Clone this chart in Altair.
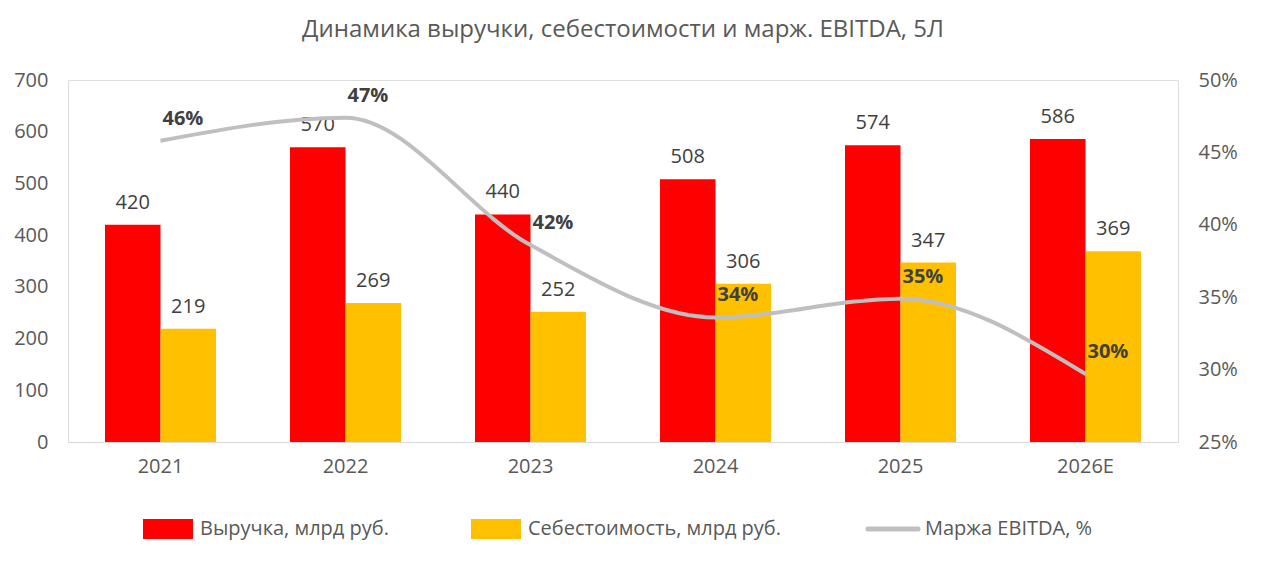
import altair as alt
import pandas as pd

years = ["2021", "2022", "2023", "2024", "2025", "2026E"]
revenue = [420, 570, 440, 508, 574, 586]
cost = [219, 269, 252, 306, 347, 369]
margin = [45.8, 47.4, 38.6, 33.6, 34.9, 29.7]
margin_labels = ["46%", "47%", "42%", "34%", "35%", "30%"]
series = ["Выручка, млрд руб.", "Себестоимость, млрд руб."]
line_name = "Маржа EBITDA, %"
colors = ["#ff0000", "#ffc000"]
line_color = "#bfbfbf"

bars = pd.DataFrame(
    [{"year": y, "s": series[0], "v": r} for y, r in zip(years, revenue)]
    + [{"year": y, "s": series[1], "v": c} for y, c in zip(years, cost)]
)
line = pd.DataFrame({"year": years, "m": margin, "lab": margin_labels})

FONT = "Open Sans"
xenc = alt.X("year:N", sort=years, title=None,
             scale=alt.Scale(paddingInner=0.4, paddingOuter=0.2),
             axis=alt.Axis(labelAngle=0, labelFontSize=20, labelColor="#595959",
                           domainColor="#d9d9d9", ticks=False, labelPadding=14))
yleft = alt.Y("v:Q", title=None, scale=alt.Scale(domain=[0, 700]),
              axis=alt.Axis(values=list(range(0, 701, 100)), grid=False, domain=False,
                            ticks=False, labelFontSize=20, labelColor="#595959", labelPadding=20))

base = alt.Chart(bars).encode(
    x=xenc,
    xOffset=alt.XOffset("s:N", sort=series),
    y=yleft,
)
barl = base.mark_bar().encode(
    color=alt.Color("s:N", scale=alt.Scale(domain=series, range=colors), legend=None))
bartxt = base.mark_text(dy=-22, fontSize=20, color="#404040", font=FONT).encode(text="v:Q")
left = alt.layer(barl, bartxt)

yright = alt.Y("m:Q", title=None, scale=alt.Scale(domain=[25, 50]),
               axis=alt.Axis(orient="right", values=[25, 30, 35, 40, 45, 50], grid=False,
                             domain=False, ticks=False, labelExpr="datum.value + '%'",
                             labelFontSize=20, labelColor="#595959", labelPadding=20))
lbase = alt.Chart(line).encode(x=alt.X("year:N", sort=years), y=yright)
lline = lbase.mark_line(interpolate="monotone", color=line_color, strokeWidth=4)
ltxt = lbase.mark_text(align="left", dx=2, dy=-22, fontSize=20, fontWeight="bold",
                       color="#404040", font=FONT).encode(text="lab:N")
right = alt.layer(lline, ltxt)

# manual legend under the plot
one = pd.DataFrame({"k": [0]})
legend = []
for name, col, x0, kind in [(series[0], colors[0], 75, "rect"),
                            (series[1], colors[1], 403, "rect"),
                            (line_name, line_color, 800, "line")]:
    if kind == "rect":
        legend.append(alt.Chart(one).mark_rect(color=col).encode(
            x=alt.value(x0), x2=alt.value(x0 + 50), y=alt.value(439), y2=alt.value(459)))
    else:
        legend.append(alt.Chart(one).mark_rule(color=col, strokeWidth=5, strokeCap="round").encode(
            x=alt.value(x0), x2=alt.value(x0 + 50), y=alt.value(449)))
    legend.append(alt.Chart(one).mark_text(
        text=name, align="left", baseline="middle", fontSize=20, color="#595959", font=FONT
    ).encode(x=alt.value(x0 + 57), y=alt.value(449)))

chart = alt.layer(left, right, *legend).resolve_scale(y="independent").properties(
    width=1110, height=362, padding={"left": 5, "top": 10, "right": 5, "bottom": 5},
    title=alt.TitleParams("Динамика выручки, себестоимости и марж. EBITDA, 5Л",
                          fontSize=24, fontWeight="normal", color="#595959",
                          font=FONT, offset=28),
).configure_view(stroke=None).configure(font=FONT)

chart.save("out.html", embed_options={"renderer": "svg", "actions": False})
